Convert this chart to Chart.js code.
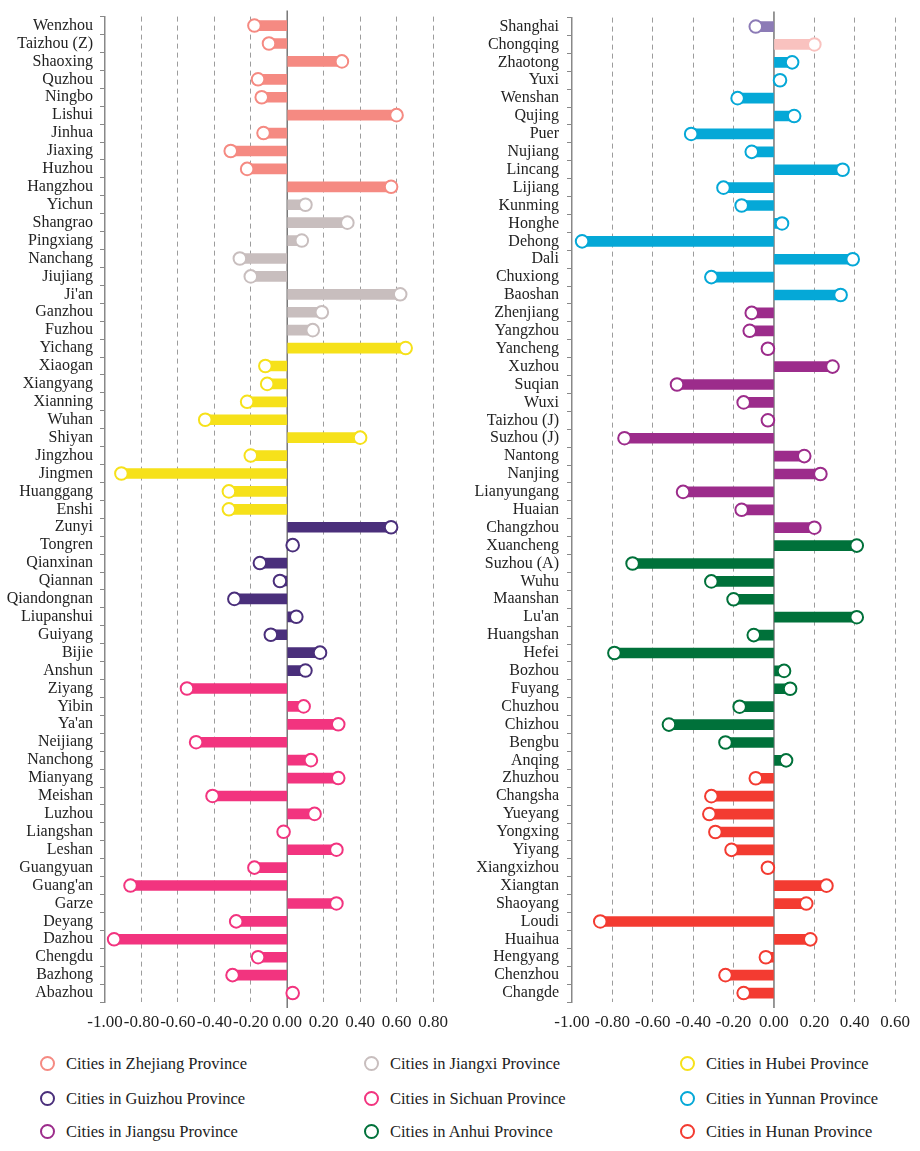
<!DOCTYPE html>
<html>
<head>
<meta charset="utf-8">
<title>City lollipop chart</title>
<script src="https://cdn.jsdelivr.net/npm/chart.js@4.4.1/dist/chart.umd.min.js"></script>
<style>
    body { margin: 0; background: #fff; font-family: "Liberation Serif", "DejaVu Serif", serif; }
    #wrap { position: relative; width: 920px; height: 1151px; }
    canvas { position: absolute; top: 0; }
    #leftChart { left: 0; }
    #rightChart { left: 460px; }
    .legend-item { position: absolute; height: 20px; line-height: 20px; font-size: 16.5px; color: #222; white-space: nowrap; }
    .legend-item span.dot { display: inline-block; width: 11px; height: 11px; border: 2px solid; border-radius: 50%; vertical-align: middle; margin-right: 11px; position: relative; top: -2px; }
</style>
</head>
<body>
<div id="wrap">
    <canvas id="leftChart" width="460" height="1045"></canvas>
    <canvas id="rightChart" width="460" height="1045"></canvas>
    <div id="legend"></div>
</div>
<script>
document.addEventListener("DOMContentLoaded", function () {

    // ==== data ====
    const zhejiangCities = ['Wenzhou', 'Taizhou (Z)', 'Shaoxing', 'Quzhou', 'Ningbo', 'Lishui', 'Jinhua', 'Jiaxing', 'Huzhou', 'Hangzhou'];
    const zhejiangValues = [-0.18, -0.10, 0.30, -0.16, -0.14, 0.60, -0.13, -0.31, -0.22, 0.57];

    const jiangxiCities = ['Yichun', 'Shangrao', 'Pingxiang', 'Nanchang', 'Jiujiang', "Ji'an", 'Ganzhou', 'Fuzhou'];
    const jiangxiValues = [0.10, 0.33, 0.08, -0.26, -0.20, 0.62, 0.19, 0.14];

    const hubeiCities = ['Yichang', 'Xiaogan', 'Xiangyang', 'Xianning', 'Wuhan', 'Shiyan', 'Jingzhou', 'Jingmen', 'Huanggang', 'Enshi'];
    const hubeiValues = [0.65, -0.12, -0.11, -0.22, -0.45, 0.40, -0.20, -0.91, -0.32, -0.32];

    const guizhouCities = ['Zunyi', 'Tongren', 'Qianxinan', 'Qiannan', 'Qiandongnan', 'Liupanshui', 'Guiyang', 'Bijie', 'Anshun'];
    const guizhouValues = [0.57, 0.03, -0.15, -0.04, -0.29, 0.05, -0.09, 0.18, 0.10];

    const sichuanCities = ['Ziyang', 'Yibin', "Ya'an", 'Neijiang', 'Nanchong', 'Mianyang', 'Meishan', 'Luzhou', 'Liangshan', 'Leshan',
        'Guangyuan', "Guang'an", 'Garze', 'Deyang', 'Dazhou', 'Chengdu', 'Bazhong', 'Abazhou'];
    const sichuanValues = [-0.55, 0.09, 0.28, -0.50, 0.13, 0.28, -0.41, 0.15, -0.02, 0.27,
        -0.18, -0.86, 0.27, -0.28, -0.95, -0.16, -0.30, 0.03];

    const shanghaiCities = ['Shanghai'];
    const shanghaiValues = [-0.09];
    const chongqingCities = ['Chongqing'];
    const chongqingValues = [0.20];

    const yunnanCities = ['Zhaotong', 'Yuxi', 'Wenshan', 'Qujing', 'Puer', 'Nujiang', 'Lincang', 'Lijiang', 'Kunming', 'Honghe',
        'Dehong', 'Dali', 'Chuxiong', 'Baoshan'];
    const yunnanValues = [0.09, 0.03, -0.18, 0.10, -0.41, -0.11, 0.34, -0.25, -0.16, 0.04,
        -0.95, 0.39, -0.31, 0.33];

    const jiangsuCities = ['Zhenjiang', 'Yangzhou', 'Yancheng', 'Xuzhou', 'Suqian', 'Wuxi', 'Taizhou (J)', 'Suzhou (J)', 'Nantong',
        'Nanjing', 'Lianyungang', 'Huaian', 'Changzhou'];
    const jiangsuValues = [-0.11, -0.12, -0.03, 0.29, -0.48, -0.15, -0.03, -0.74, 0.15,
        0.23, -0.45, -0.16, 0.20];

    const anhuiCities = ['Xuancheng', 'Suzhou (A)', 'Wuhu', 'Maanshan', "Lu'an", 'Huangshan', 'Hefei', 'Bozhou', 'Fuyang',
        'Chuzhou', 'Chizhou', 'Bengbu', 'Anqing'];
    const anhuiValues = [0.41, -0.70, -0.31, -0.20, 0.41, -0.10, -0.79, 0.05, 0.08,
        -0.17, -0.52, -0.24, 0.06];

    const hunanCities = ['Zhuzhou', 'Changsha', 'Yueyang', 'Yongxing', 'Yiyang', 'Xiangxizhou', 'Xiangtan', 'Shaoyang', 'Loudi',
        'Huaihua', 'Hengyang', 'Chenzhou', 'Changde'];
    const hunanValues = [-0.09, -0.31, -0.32, -0.29, -0.21, -0.03, 0.26, 0.16, -0.86,
        0.18, -0.04, -0.24, -0.15];

    const leftTicksMax = 0.8;
    const rightTicksMax = 0.6;

    // ==== colours ====
    const colors = {
        zhejiang: '#F58A82',
        jiangxi: '#C8BEBE',
        hubei: '#F6E11A',
        guizhou: '#4A2F7B',
        sichuan: '#F2347F',
        shanghai: '#8C7BB6',
        chongqing: '#F9C2BF',
        yunnan: '#05A8D7',
        jiangsu: '#9C2C8B',
        anhui: '#00713A',
        hunan: '#F33B31'
    };

    const FONT = '"Liberation Serif", "DejaVu Serif", serif';

    function buildPanel(groups) {
        const labels = [], values = [], cols = [];
        groups.forEach(g => {
            g[0].forEach((c, i) => {
                labels.push(c);
                values.push(g[1][i]);
                cols.push(g[2]);
            });
        });
        return { labels, values, cols };
    }

    const leftPanel = buildPanel([
        [zhejiangCities, zhejiangValues, colors.zhejiang],
        [jiangxiCities, jiangxiValues, colors.jiangxi],
        [hubeiCities, hubeiValues, colors.hubei],
        [guizhouCities, guizhouValues, colors.guizhou],
        [sichuanCities, sichuanValues, colors.sichuan]
    ]);
    const rightPanel = buildPanel([
        [shanghaiCities, shanghaiValues, colors.shanghai],
        [chongqingCities, chongqingValues, colors.chongqing],
        [yunnanCities, yunnanValues, colors.yunnan],
        [jiangsuCities, jiangsuValues, colors.jiangsu],
        [anhuiCities, anhuiValues, colors.anhui],
        [hunanCities, hunanValues, colors.hunan]
    ]);

    // solid zero line drawn behind the bars
    const zeroLine = {
        id: 'zeroLine',
        beforeDatasetsDraw(chart) {
            const ctx = chart.ctx;
            const x = chart.scales.x.getPixelForValue(0);
            const { top, bottom } = chart.chartArea;
            ctx.save();
            ctx.strokeStyle = '#777';
            ctx.lineWidth = 1.5;
            ctx.beginPath();
            ctx.moveTo(x, top - 6);
            ctx.lineTo(x, bottom + 6);
            ctx.stroke();
            ctx.restore();
        }
    };

    function makeChart(id, panel, xMax, yWidth, padRight, labelPad) {
        const ctx = document.getElementById(id).getContext('2d');
        return new Chart(ctx, {
            type: 'bar',
            data: {
                labels: panel.labels,
                datasets: [
                    {
                        type: 'line',
                        indexAxis: 'y',
                        data: panel.values,
                        showLine: false,
                        pointStyle: 'circle',
                        pointRadius: 6.3,
                        pointBorderWidth: 2,
                        pointBackgroundColor: '#fff',
                        pointBorderColor: panel.cols,
                        order: 1
                    },
                    {
                        type: 'bar',
                        indexAxis: 'y',
                        data: panel.values,
                        backgroundColor: panel.cols,
                        barThickness: 10,
                        order: 2
                    }
                ]
            },
            options: {
                indexAxis: 'y',
                responsive: false,
                animation: false,
                layout: { padding: { top: 11, right: padRight, left: 0, bottom: 0 } },
                plugins: {
                    legend: { display: false },
                    tooltip: { enabled: false }
                },
                scales: {
                    x: {
                        type: 'linear',
                        min: -1,
                        max: xMax,
                        afterFit: function (scale) { scale.height = 43; },
                        ticks: {
                            stepSize: 0.2,
                            autoSkip: false,
                            color: '#222',
                            padding: 10,
                            maxRotation: 0,
                            minRotation: 0,
                            font: { family: FONT, size: 17 },
                            callback: v => (Math.abs(v) < 1e-9 ? 0 : v).toFixed(2)
                        },
                        grid: {
                            drawTicks: false,
                            lineWidth: 1,
                            color: c => (Math.abs(c.tick.value) < 1e-9 || c.tick.value <= -0.999) ? 'rgba(0,0,0,0)' : '#9c9c9c'
                        },
                        border: { display: false, dash: [5, 4] }
                    },
                    y: {
                        type: 'category',
                        offset: true,
                        afterFit: function (scale) { scale.width = yWidth; },
                        ticks: {
                            autoSkip: false,
                            color: '#222',
                            padding: labelPad,
                            font: { family: FONT, size: 16 }
                        },
                        grid: {
                            drawOnChartArea: false,
                            drawTicks: true,
                            tickLength: 5,
                            color: '#888'
                        },
                        border: { display: true, color: '#888', width: 1.5 }
                    }
                }
            },
            plugins: [zeroLine]
        });
    }

    makeChart('leftChart', leftPanel, leftTicksMax, 105, 27, 7);
    makeChart('rightChart', rightPanel, rightTicksMax, 112, 21, 8);

    // ==== legend ====
    const legendNames = [
        ['Cities in Zhejiang Province', colors.zhejiang],
        ['Cities in Jiangxi Province', colors.jiangxi],
        ['Cities in Hubei Province', colors.hubei],
        ['Cities in Guizhou Province', colors.guizhou],
        ['Cities in Sichuan Province', colors.sichuan],
        ['Cities in Yunnan Province', colors.yunnan],
        ['Cities in Jiangsu Province', colors.jiangsu],
        ['Cities in Anhui Province', colors.anhui],
        ['Cities in Hunan Province', colors.hunan]
    ];
    const colLeft = [40, 364, 680];
    const rowTop = [1054, 1089, 1122];
    const legend = document.getElementById('legend');
    legendNames.forEach((item, i) => {
        const div = document.createElement('div');
        div.className = 'legend-item';
        div.style.left = colLeft[i % 3] + 'px';
        div.style.top = rowTop[Math.floor(i / 3)] + 'px';
        const dot = document.createElement('span');
        dot.className = 'dot';
        dot.style.borderColor = item[1];
        div.appendChild(dot);
        div.appendChild(document.createTextNode(item[0]));
        legend.appendChild(div);
    });
});
</script>
</body>
</html>
